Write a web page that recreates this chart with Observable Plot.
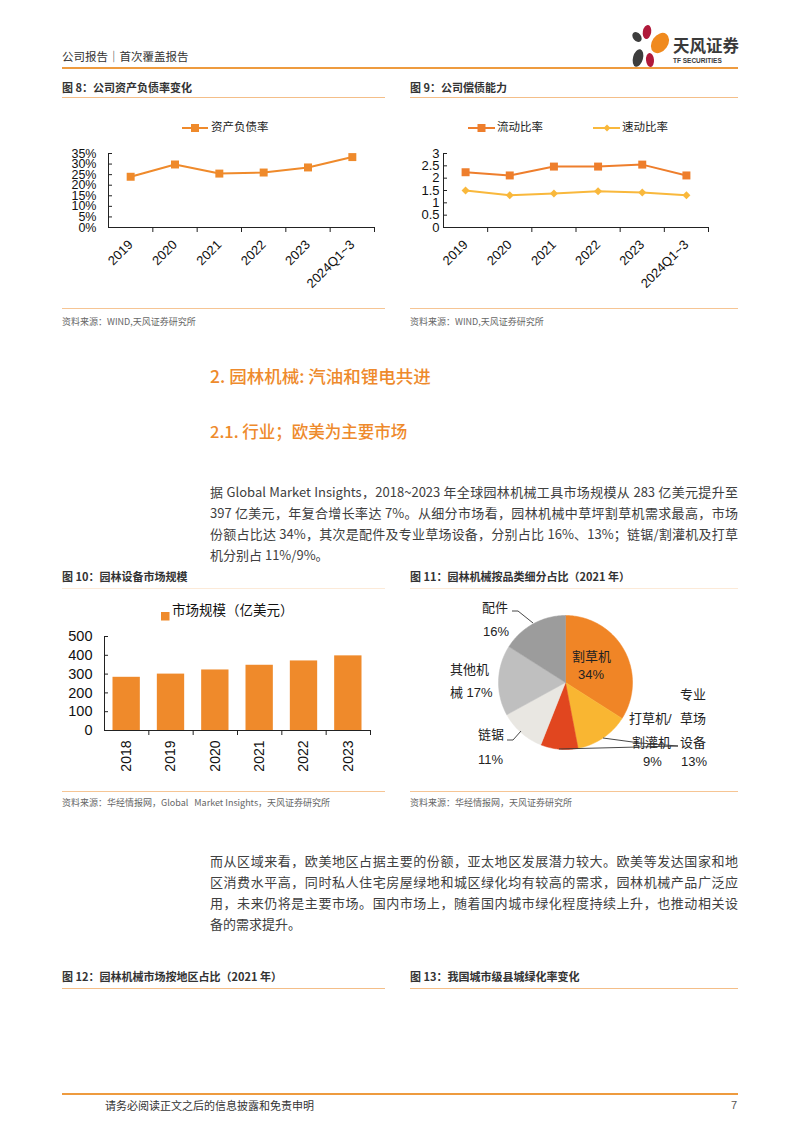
<!DOCTYPE html>
<html><head><meta charset="utf-8">
<script src="https://cdn.jsdelivr.net/npm/d3@7"></script>
<script src="https://cdn.jsdelivr.net/npm/@observablehq/plot@0.6"></script>
<style>
body{margin:0;background:#fff;}
#page{position:relative;width:802px;height:1133px;overflow:hidden;font-family:"Noto Sans CJK SC",sans-serif;color:#333;background:#fff;}
.abs{position:absolute;white-space:nowrap;line-height:1;}
.para{position:absolute;left:210px;width:528px;font-size:13px;color:#404040;line-height:1;text-align:justify;text-align-last:justify;white-space:nowrap;}
.para.last{text-align-last:left;}
.chart{position:absolute;}
.chart svg{overflow:visible;}
</style></head>
<body><div id="page"></div>
<script>
// ---------- data ----------
const debtYears = ["2019", "2020", "2021", "2022", "2023", "2024Q1~3"];
const debtRatio = [0.240, 0.298, 0.255, 0.260, 0.284, 0.333];
const currentRatio = [2.24, 2.11, 2.47, 2.47, 2.55, 2.11];
const quickRatio = [1.50, 1.31, 1.38, 1.47, 1.42, 1.31];
const marketYears = ["2018", "2019", "2020", "2021", "2022", "2023"];
const marketSize = [283, 300, 322, 347, 370, 397];
const pieNames = ["割草机", "专业草场设备", "打草机/割灌机", "链锯", "其他机械", "配件"];
const pieShares = [34, 13, 9, 11, 17, 16];
const debtTicks = [0, 5, 10, 15, 20, 25, 30, 35].map(k => k / 100);
const ratioTicks = [0, 1, 2, 3, 4, 5, 6].map(k => k / 2);
const marketTicks = [0, 100, 200, 300, 400, 500];

// ---------- styling ----------
const numFont = '"Liberation Sans", Arial, "Noto Sans CJK SC", sans-serif';
const ORANGE = "#EF8A2B";
const ORANGE2 = "#EE7E2C";
const YELLOW = "#F9B83C";
const pieColors = ["#F08526", "#F9B632", "#E1461F", "#E9E7E2", "#BFBFBF", "#9C9C9C"];
const page = document.getElementById("page");

function put(x, top, html, css = {}) {
  const d = document.createElement("div");
  d.className = "abs";
  d.style.left = x + "px";
  d.style.top = top + "px";
  Object.assign(d.style, css);
  d.innerHTML = html;
  page.appendChild(d);
  return d;
}
function hline(x1, x2, y, h, color) {
  const d = document.createElement("div");
  Object.assign(d.style, {position: "absolute", left: x1 + "px", top: y + "px", width: (x2 - x1) + "px", height: h + "px", background: color});
  page.appendChild(d);
}
function chartBox(left, top, svg) {
  const d = document.createElement("div");
  d.className = "chart";
  d.style.left = left + "px";
  d.style.top = top + "px";
  d.appendChild(svg);
  page.appendChild(d);
}

// ---------- header ----------
put(62, 51, "公司报告｜首次覆盖报告", {fontSize: "11.5px", color: "#333"});
put(630, 22, `<svg width="42" height="48" viewBox="0 0 42 48">
  <ellipse cx="7" cy="15" rx="4" ry="5.5" fill="#3d3d3d" transform="rotate(-40 7 15)"/>
  <ellipse cx="17" cy="10" rx="4.2" ry="7" fill="#B0193A" transform="rotate(10 17 10)"/>
  <ellipse cx="30" cy="21" rx="8" ry="11" fill="#F08A1E" transform="rotate(35 30 21)"/>
  <ellipse cx="8" cy="36" rx="5" ry="9" fill="#3d3d3d" transform="rotate(15 8 36)"/>
  <ellipse cx="20" cy="38" rx="4" ry="7" fill="#B0193A" transform="rotate(-5 20 38)"/>
</svg>`);
put(673, 37, "天风证券", {fontSize: "16.5px", fontWeight: "bold", color: "#3a3a3a"});
put(673, 58, "TF SECURITIES", {fontSize: "6.5px", fontWeight: "bold", color: "#3a3a3a", fontFamily: numFont});
hline(62, 738, 67, 2, "#EE9B3F");

// ---------- figure titles row 1 ----------
put(62, 82, "图 8：公司资产负债率变化", {fontSize: "11px", fontWeight: "bold", color: "#333"});
put(410, 82, "图 9：公司偿债能力", {fontSize: "11px", fontWeight: "bold", color: "#333"});
hline(62, 385, 97, 1, "#F4BE88");
hline(410, 738, 97, 1, "#F4BE88");

// legend chart 8
put(182, 120, `<svg width="28" height="14"><line x1="0" y1="7" x2="26" y2="7" stroke="${ORANGE}" stroke-width="2"/><rect x="9" y="3" width="8" height="8" fill="${ORANGE}"/></svg>`);
put(211, 121, "资产负债率", {fontSize: "11.5px", color: "#222"});
// legend chart 9
put(468, 120, `<svg width="28" height="14"><line x1="0" y1="7" x2="27" y2="7" stroke="${ORANGE2}" stroke-width="2"/><rect x="9.5" y="3" width="8" height="8" fill="${ORANGE2}"/></svg>`);
put(497, 121, "流动比率", {fontSize: "11.5px", color: "#222"});
put(593, 120, `<svg width="28" height="14"><line x1="0" y1="7" x2="27" y2="7" stroke="${YELLOW}" stroke-width="2"/><path d="M14 3.5 L17.5 7 L14 10.5 L10.5 7Z" fill="${YELLOW}"/></svg>`);
put(622, 121, "速动比率", {fontSize: "11.5px", color: "#222"});

function categoryLineChart({cats, series, yTicks, yFormat, yMax, width, height, mL, mT, mB, mR, padY, yFont}) {
  const n = cats.length;
  const marks = [
    Plot.ruleX([0], {stroke: "#222"}),
    Plot.ruleY([0], {stroke: "#222"}),
    Plot.axisY({ticks: yTicks, tickFormat: yFormat, tickSize: 0, tickPadding: padY, fontSize: yFont, label: null, fill: "#111"}),
    Plot.axisY({ticks: yTicks, tickFormat: () => "", tickSize: 4, dx: 4, label: null, stroke: "#222"}),
    Plot.axisX({ticks: d3.range(1, n + 1), tickFormat: () => "", tickSize: 5, label: null, stroke: "#222"}),
    Plot.axisX({ticks: d3.range(n).map(i => i + 0.5), tickFormat: t => cats[Math.floor(t)], tickSize: 0, tickPadding: 15, tickRotate: -45, fontSize: 13, label: null, fill: "#111"})
  ];
  for (const s of series) {
    const rows = s.values.map((v, i) => ({i, v}));
    marks.push(Plot.line(rows, {x: d => d.i + 0.5, y: "v", stroke: s.color, strokeWidth: 2}));
    marks.push(Plot.dot(rows, {x: d => d.i + 0.5, y: "v", symbol: s.symbol, r: s.r, fill: s.color, stroke: "none"}));
  }
  return Plot.plot({
    width, height, marginLeft: mL, marginTop: mT, marginBottom: mB, marginRight: mR,
    x: {domain: [0, n]}, y: {domain: [0, yMax]},
    style: {fontFamily: numFont, fontSize: "13px", color: "#111", background: "transparent", overflow: "visible"},
    marks
  });
}

chartBox(55, 140, categoryLineChart({
  cats: debtYears, yTicks: debtTicks, yFormat: d => Math.round(d * 100) + "%", yMax: 0.35,
  width: 340, height: 160, mL: 53, mT: 13, mB: 73, mR: 21, padY: 12, yFont: 12.5,
  series: [{values: debtRatio, color: ORANGE, symbol: "square", r: 4.5}]
}));
chartBox(400, 140, categoryLineChart({
  cats: debtYears, yTicks: ratioTicks, yFormat: d => String(d), yMax: 3,
  width: 340, height: 160, mL: 43, mT: 13, mB: 73, mR: 32, padY: 4, yFont: 13,
  series: [
    {values: currentRatio, color: ORANGE2, symbol: "square", r: 4.5},
    {values: quickRatio, color: YELLOW, symbol: "diamond2", r: 3.6}
  ]
}));

hline(62, 385, 308, 1, "#F6C594");
hline(410, 738, 308, 1, "#F6C594");
put(62, 317, "资料来源：WIND,天风证券研究所", {fontSize: "9px", color: "#666"});
put(410, 317, "资料来源：WIND,天风证券研究所", {fontSize: "9px", color: "#666"});

// ---------- section headings & paragraph ----------
put(210, 367, "2. 园林机械: 汽油和锂电共进", {fontSize: "17.5px", color: "#EE8A2C", fontWeight: "500"});
put(210, 423, "2.1. 行业；欧美为主要市场", {fontSize: "16.5px", color: "#EE8A2C", fontWeight: "500"});

const para1 = [
  "据 Global Market Insights，2018~2023 年全球园林机械工具市场规模从 283 亿美元提升至",
  "397 亿美元，年复合增长率达 7%。从细分市场看，园林机械中草坪割草机需求最高，市场",
  "份额占比达 34%，其次是配件及专业草场设备，分别占比 16%、13%；链锯/割灌机及打草",
  "机分别占 11%/9%。"
];
para1.forEach((t, k) => {
  const d = document.createElement("div");
  d.className = "para" + (k === para1.length - 1 ? " last" : "");
  d.style.top = (485 + k * 21) + "px";
  d.textContent = t;
  page.appendChild(d);
});

// ---------- figure titles row 2 ----------
put(62, 571, "图 10：园林设备市场规模", {fontSize: "11px", fontWeight: "bold", color: "#333"});
put(410, 571, "图 11：园林机械按品类细分占比（2021 年）", {fontSize: "11px", fontWeight: "bold", color: "#333"});
hline(62, 385, 588, 1, "#FCEAD8");
hline(410, 738, 588, 1, "#FCEAD8");

// legend chart 10
put(161, 606, `<svg width="9" height="9"><rect width="8.5" height="8.5" fill="${ORANGE}"/></svg>`);
put(172, 603, "市场规模（亿美元）", {fontSize: "13.5px", color: "#111"});

// bar chart
(function () {
  const n = marketYears.length;
  const rows = marketSize.map((v, i) => ({i, v}));
  const svg = Plot.plot({
    width: 330, height: 160, marginLeft: 49, marginTop: 16, marginBottom: 50, marginRight: 15,
    x: {domain: [0, n]}, y: {domain: [0, 500]},
    style: {fontFamily: numFont, fontSize: "14px", color: "#111", background: "transparent", overflow: "visible"},
    marks: [
      Plot.rectY(rows, {x1: d => d.i, x2: d => d.i + 1, y: "v", fill: ORANGE, insetLeft: 8.5, insetRight: 8.5}),
      Plot.ruleX([0], {stroke: "#222"}),
      Plot.ruleY([0], {stroke: "#222"}),
      Plot.axisY({ticks: marketTicks, tickSize: 0, tickPadding: 12, fontSize: 14.5, label: null, fill: "#111"}),
      Plot.axisY({ticks: marketTicks, tickFormat: () => "", tickSize: 4, dx: 4, label: null, stroke: "#222"}),
      Plot.axisX({ticks: d3.range(1, n + 1), tickFormat: () => "", tickSize: 5, label: null, stroke: "#222"}),
      Plot.axisX({ticks: d3.range(n).map(i => i + 0.5), tickFormat: t => marketYears[Math.floor(t)], tickSize: 0, tickPadding: 10, tickRotate: -90, fontSize: 14, label: null, fill: "#111"})
    ]
  });
  chartBox(55, 620, svg);
})();

// pie chart
(function () {
  const R = 85 / 67;
  const total = d3.sum(pieShares);
  let acc = 0;
  const marks = [];
  pieShares.forEach((s, k) => {
    const a0 = acc / total * 2 * Math.PI;
    acc += s;
    const a1 = acc / total * 2 * Math.PI;
    const steps = Math.max(2, Math.ceil((a1 - a0) / (Math.PI / 180)));
    const pts = [{x: 0, y: 0}];
    for (let j = 0; j <= steps; j++) {
      const a = a0 + (a1 - a0) * j / steps;
      pts.push({x: Math.sin(a), y: Math.cos(a)});
    }
    pts.push({x: 0, y: 0});
    marks.push(Plot.line(pts, {x: "x", y: "y", fill: pieColors[k], stroke: pieColors[k], strokeWidth: 0.5}));
  });
  const svg = Plot.plot({
    width: 170, height: 170, margin: 0,
    x: {domain: [-R, R], axis: null}, y: {domain: [-R, R], axis: null},
    style: {background: "transparent", overflow: "visible"},
    marks
  });
  chartBox(480, 597, svg);
})();

// pie labels
const pl = {fontSize: "13px", color: "#222", fontFamily: numFont};
put(482, 601, "配件", pl);
put(483, 625, "16%", pl);
put(572, 650, "割草机", pl);
put(578, 668, "34%", pl);
put(680, 688, "专业", pl);
put(680, 712, "草场", pl);
put(680, 736, "设备", pl);
put(681, 755, "13%", pl);
put(629, 712, "打草机/", pl);
put(632, 736, "割灌机", pl);
put(643, 755, "9%", pl);
put(478, 728, "链锯", pl);
put(478, 753, "11%", pl);
put(450, 663, "其他机", pl);
put(450, 686, "械 17%", pl);
// leader lines
put(0, 0, `<svg width="802" height="800" style="position:absolute;left:0;top:0;overflow:visible">
<g fill="none" stroke="#333" stroke-width="0.9">
<polyline points="512,611 518,611 533,623"/>
<polyline points="507,740 513,740 521,731"/>
<polyline points="559,749 678,746"/>
<polyline points="603,738 640,743 678,746"/>
</g></svg>`);

hline(62, 385, 791, 1, "#F6C594");
hline(410, 738, 791, 1, "#F6C594");
put(62, 798, "资料来源：华经情报网，Global&nbsp;&nbsp; Market Insights，天风证券研究所", {fontSize: "9px", color: "#666"});
put(410, 798, "资料来源：华经情报网，天风证券研究所", {fontSize: "9px", color: "#666"});

// ---------- paragraph 2 ----------
const para2 = [
  "而从区域来看，欧美地区占据主要的份额，亚太地区发展潜力较大。欧美等发达国家和地",
  "区消费水平高，同时私人住宅房屋绿地和城区绿化均有较高的需求，园林机械产品广泛应",
  "用，未来仍将是主要市场。国内市场上，随着国内城市绿化程度持续上升，也推动相关设",
  "备的需求提升。"
];
para2.forEach((t, k) => {
  const d = document.createElement("div");
  d.className = "para" + (k === para2.length - 1 ? " last" : "");
  d.style.top = (854 + k * 21) + "px";
  d.textContent = t;
  page.appendChild(d);
});

put(62, 971, "图 12：园林机械市场按地区占比（2021 年）", {fontSize: "11px", fontWeight: "bold", color: "#333"});
put(410, 971, "图 13：我国城市级县城绿化率变化", {fontSize: "11px", fontWeight: "bold", color: "#333"});
hline(62, 385, 988, 1, "#F4BE88");
hline(410, 738, 988, 1, "#F4BE88");

// ---------- footer ----------
hline(62, 738, 1093, 2, "#EE9B3F");
put(105, 1100, "请务必阅读正文之后的信息披露和免责申明", {fontSize: "11px", color: "#333"});
put(731, 1100, "7", {fontSize: "11px", color: "#555", fontFamily: numFont});
</script>
</body></html>
